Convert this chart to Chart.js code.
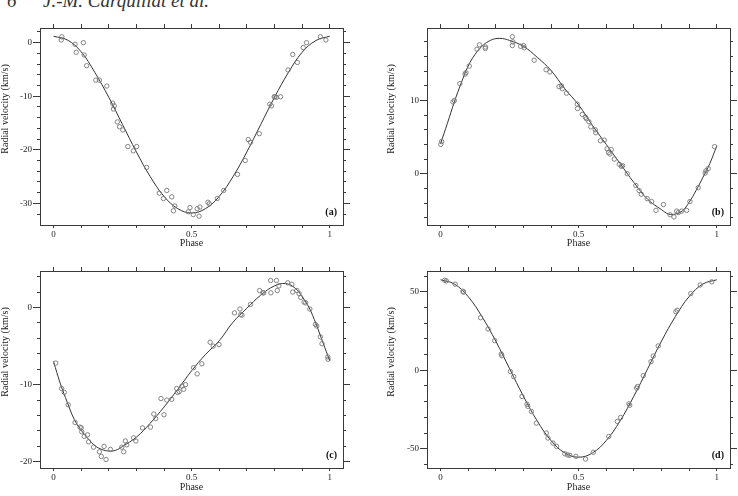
<!DOCTYPE html>
<html lang="en">
<head>
<meta charset="utf-8">
<title>Radial velocity curves</title>
<script src="https://cdn.jsdelivr.net/npm/chart.js@4.4.1/dist/chart.umd.min.js"></script>
<style>
  html, body { margin: 0; padding: 0; background: #fff; }
  body { width: 738px; height: 496px; position: relative; overflow: hidden; }
  canvas { position: absolute; }
  .head { position: absolute; top: -9px; font: italic 19px "Liberation Serif", serif; line-height: 19px; color: #333; white-space: nowrap; }
</style>
</head>
<body>
<span class="head" style="left:7px">6</span>
<span class="head" style="left:43px">J.-M. Carquillat et al.</span>
<canvas id="panelA" width="369" height="278" style="left:0;top:-30px"></canvas>
<canvas id="panelB" width="352" height="278" style="left:386px;top:-30px"></canvas>
<canvas id="panelC" width="369" height="280" style="left:0;top:212px"></canvas>
<canvas id="panelD" width="352" height="280" style="left:386px;top:212px"></canvas>
<script>
const xTicks = [0, 0.1, 0.2, 0.3, 0.4, 0.5, 0.6, 0.7, 0.8, 0.9, 1];
const xLabels = [0, 0.5, 1];

// (a)
const phaseA = [0.030,0.028,0.078,0.082,0.108,0.111,0.120,0.153,0.166,0.193,0.214,0.220,0.217,0.231,0.239,0.251,0.269,0.289,0.301,0.337,0.383,0.398,0.410,0.428,0.434,0.439,0.488,0.494,0.506,0.520,0.527,0.530,0.559,0.564,0.593,0.616,0.666,0.694,0.705,0.713,0.745,0.783,0.789,0.799,0.802,0.807,0.822,0.849,0.866,0.883,0.904,0.916,0.966,0.986];
const rvA = [1.1,0.5,-0.3,-1.8,0.0,-2.3,-4.3,-7.0,-7.0,-8.1,-11.3,-11.8,-12.4,-14.8,-15.7,-16.3,-19.4,-20.2,-19.4,-23.3,-28.1,-29.1,-27.6,-28.8,-31.4,-30.5,-31.6,-30.8,-32.1,-31.0,-32.4,-30.7,-29.8,-30.1,-29.1,-27.6,-24.6,-22.0,-18.1,-18.6,-17.0,-11.5,-11.8,-10.1,-10.1,-10.2,-10.1,-5.1,-2.2,-3.7,-0.9,0.0,1.1,0.5];
const fitPhaseA = [0,0.05,0.1,0.15,0.2,0.25,0.3,0.35,0.4,0.45,0.5,0.55,0.6,0.65,0.7,0.75,0.8,0.85,0.9,0.95,1];
const fitA = [1.2,0.5,-1.7,-5.6,-10.2,-15.3,-20.4,-25.0,-28.7,-31.0,-31.8,-31.0,-28.7,-25.0,-20.4,-15.3,-10.2,-5.6,-1.8,0.4,1.2];
const majorA = [0, -10, -20, -30];
const minorA = [-32,-30,-28,-26,-24,-22,-20,-18,-16,-14,-12,-10,-8,-6,-4,-2,0,2];

// (b)
const phaseB = [0.004,0.001,0.045,0.050,0.070,0.089,0.092,0.104,0.132,0.141,0.162,0.163,0.260,0.260,0.262,0.290,0.301,0.303,0.339,0.382,0.396,0.429,0.438,0.441,0.456,0.495,0.496,0.513,0.525,0.528,0.537,0.544,0.560,0.562,0.579,0.593,0.603,0.608,0.613,0.618,0.629,0.647,0.655,0.659,0.676,0.707,0.719,0.727,0.748,0.764,0.780,0.807,0.831,0.845,0.855,0.861,0.873,0.891,0.903,0.933,0.958,0.961,0.969,0.992];
const rvB = [4.4,4.0,9.8,10.0,12.3,13.6,13.8,14.7,17.0,17.6,17.1,17.3,18.7,17.5,18.0,17.4,17.5,17.2,15.5,14.2,13.9,11.9,12.0,11.6,11.0,9.5,8.9,8.1,7.7,7.5,7.1,6.4,6.0,5.6,4.5,4.6,3.4,2.9,2.7,3.3,2.0,1.3,1.0,1.1,0.0,-1.6,-2.3,-2.8,-3.4,-3.8,-5.0,-4.2,-5.6,-5.9,-5.1,-5.3,-5.1,-5.0,-3.8,-1.9,0.1,0.4,0.7,3.7];
const fitPhaseB = [0,0.025,0.05,0.075,0.1,0.125,0.15,0.175,0.2,0.225,0.25,0.3,0.35,0.4,0.45,0.5,0.55,0.6,0.65,0.7,0.75,0.8,0.825,0.85,0.875,0.9,0.925,0.95,0.975,1];
const fitB = [4.1,6.9,9.8,12.4,14.7,16.3,17.4,18.1,18.45,18.45,18.2,17.4,15.9,14.1,11.6,9.4,6.6,4.0,1.4,-1.2,-3.5,-4.9,-5.5,-5.5,-5.1,-3.9,-2.3,-0.5,1.4,3.8];
const majorB = [0, 10];
const minorB = [-6,-4,-2,0,2,4,6,8,10,12,14,16,18];

// (c)
const phaseC = [0.008,0.029,0.039,0.053,0.078,0.096,0.100,0.102,0.111,0.123,0.127,0.145,0.166,0.173,0.183,0.190,0.206,0.247,0.254,0.260,0.265,0.290,0.298,0.322,0.351,0.363,0.370,0.389,0.400,0.410,0.428,0.446,0.449,0.455,0.465,0.471,0.478,0.507,0.520,0.537,0.567,0.578,0.599,0.655,0.675,0.678,0.682,0.713,0.746,0.758,0.761,0.786,0.787,0.807,0.810,0.816,0.848,0.863,0.866,0.881,0.889,0.895,0.907,0.913,0.928,0.948,0.953,0.966,0.972,0.993,0.994];
const rvC = [-7.2,-10.5,-11.0,-12.6,-14.9,-15.5,-15.6,-16.1,-16.7,-16.5,-17.4,-18.1,-18.7,-19.3,-18.0,-19.7,-18.4,-18.1,-18.7,-17.3,-17.8,-16.9,-17.3,-15.6,-15.5,-13.8,-14.4,-11.8,-13.9,-12.0,-11.9,-10.5,-11.0,-10.9,-10.2,-10.6,-10.0,-7.8,-8.6,-7.3,-4.5,-5.0,-4.8,-0.7,-0.2,-0.9,-1.0,0.4,2.2,1.9,1.9,3.5,1.9,3.5,2.2,2.8,3.2,3.0,2.0,2.2,1.8,1.3,0.7,0.6,-0.2,-2.2,-2.4,-3.8,-4.7,-6.4,-6.7];
const fitPhaseC = [0,0.025,0.05,0.075,0.1,0.125,0.15,0.175,0.2,0.225,0.25,0.3,0.35,0.4,0.45,0.5,0.55,0.6,0.65,0.7,0.75,0.8,0.84,0.875,0.9,0.925,0.95,0.975,1];
const fitC = [-7.0,-9.9,-12.3,-14.5,-15.9,-17.0,-17.9,-18.4,-18.6,-18.5,-18.0,-16.8,-15.0,-12.9,-10.6,-8.2,-6.1,-4.3,-1.9,-0.1,1.6,2.8,3.1,2.5,1.4,0.0,-2.1,-4.5,-6.9];
const majorC = [0, -10, -20];
const minorC = [-20,-18,-16,-14,-12,-10,-8,-6,-4,-2,0,2,4];

// (d)
const phaseD = [0.015,0.021,0.053,0.081,0.083,0.145,0.172,0.196,0.220,0.222,0.253,0.265,0.295,0.313,0.316,0.329,0.347,0.383,0.389,0.407,0.420,0.450,0.460,0.468,0.490,0.525,0.553,0.609,0.640,0.652,0.682,0.685,0.710,0.713,0.734,0.762,0.770,0.788,0.852,0.857,0.906,0.940,0.982];
const rvD = [57.4,57.0,54.9,50.4,49.8,33.5,26.3,18.9,10.4,9.3,-0.8,-4.0,-16.7,-21.6,-23.0,-26.3,-33.7,-40.0,-43.2,-46.4,-48.5,-53.2,-54.0,-54.2,-54.9,-56.6,-52.3,-42.2,-32.6,-30.1,-21.4,-22.3,-11.4,-10.4,-3.4,5.5,9.1,15.5,37.3,38.3,48.9,54.4,56.4];
const fitPhaseD = [0,0.05,0.1,0.15,0.2,0.25,0.3,0.35,0.4,0.45,0.5,0.55,0.6,0.65,0.7,0.75,0.8,0.85,0.9,0.95,1];
const fitD = [57.7,55.0,47.0,34.2,18.6,1.0,-16.5,-32.3,-44.8,-52.7,-55.4,-52.7,-44.8,-32.3,-16.5,1.0,18.6,34.2,47.0,55.0,57.7];
const majorD = [50, 0, -50];
const minorD = [-60,-50,-40,-30,-20,-10,0,10,20,30,40,50,60];

const ink = "#3a3a3a";
const family = '"Liberation Serif", "Times New Roman", serif';
const tickFont = { family: family, size: 9 };
const titleFont = { family: family, size: 10, lineHeight: 1 };

function fixedSize(size) {
  return function (scale) {
    if (scale.isHorizontal()) scale.height = size;
    else scale.width = size;
  };
}

function setTicks(values) {
  return function (scale) {
    scale.ticks = values.map(v => ({ value: v }));
  };
}

function tickAxis(position, weight, min, max, values, size, tickLength) {
  return {
    type: "linear",
    axis: position === "top" || position === "bottom" ? "x" : "y",
    position: position,
    weight: weight,
    min: min,
    max: max,
    afterBuildTicks: setTicks(values),
    afterFit: fixedSize(size),
    grid: { drawOnChartArea: false, tickLength: tickLength, color: ink, lineWidth: 1 },
    border: { display: weight > 0, color: ink, width: 1 },
    ticks: { display: false }
  };
}

const panelLetter = {
  id: "panelLetter",
  afterDatasetsDraw(chart, args, opts) {
    const { ctx, chartArea } = chart;
    ctx.save();
    ctx.font = "bold 10px " + family;
    ctx.fillStyle = "#111";
    ctx.textAlign = "right";
    ctx.textBaseline = "middle";
    ctx.fillText(opts.text, chartArea.right - 6, chartArea.bottom - 13);
    ctx.restore();
  }
};

function crearPanel(id, p) {
  const xMin = -0.049, xMax = 1.048;

  const xAxis = tickAxis("bottom", 1, xMin, xMax, xTicks, p.bottom, 3);
  xAxis.ticks = {
    display: true, padding: 1, font: tickFont, color: "#222",
    maxRotation: 0, autoSkip: false,
    callback: v => xLabels.includes(v) ? String(v) : ""
  };
  xAxis.title = { display: true, text: "Phase", font: titleFont, color: "#222", padding: 0 };

  const yAxis = tickAxis("left", 1, p.yMin, p.yMax, p.major, p.left, 7);
  yAxis.ticks = { display: true, padding: 1, font: tickFont, color: "#222", callback: v => String(v) };

  return new Chart(document.getElementById(id), {
    type: "scatter",
    data: {
      datasets: [
        {
          data: p.phase.map((x, i) => ({ x: x, y: p.rv[i] })),
          pointStyle: "circle",
          pointRadius: 2.2,
          borderColor: "#777",
          borderWidth: 0.9,
          backgroundColor: "rgba(255,255,255,0)",
          showLine: false
        },
        {
          type: "line",
          data: p.fitPhase.map((x, i) => ({ x: x, y: p.fit[i] })),
          borderColor: "#333",
          borderWidth: 1,
          pointRadius: 0,
          fill: false,
          tension: 0.4
        }
      ]
    },
    options: {
      responsive: false,
      animation: false,
      devicePixelRatio: 1,
      layout: { padding: 0 },
      scales: {
        x: xAxis,
        xTop: tickAxis("top", 1, xMin, xMax, xTicks, p.top, 4),
        y: yAxis,
        yMinor: tickAxis("left", 0, p.yMin, p.yMax, p.minor, 0, 3),
        yRight: tickAxis("right", 1, p.yMin, p.yMax, p.major, p.right, 7),
        yRightMinor: tickAxis("right", 0, p.yMin, p.yMax, p.minor, 0, 3)
      },
      plugins: {
        legend: { display: false },
        tooltip: { enabled: false },
        title: {
          display: true, position: "left", text: "Radial velocity (km/s)",
          font: { family: family, size: 10, weight: "normal", lineHeight: 1 },
          color: "#222", padding: 0
        },
        panelLetter: { text: p.letter }
      }
    },
    plugins: [panelLetter]
  });
}

crearPanel("panelA", { phase: phaseA, rv: rvA, fitPhase: fitPhaseA, fit: fitA, yMin: -34.05, yMax: 2.74, major: majorA, minor: minorA, letter: "(a)", left: 30, right: 26, top: 58, bottom: 23 });
crearPanel("panelB", { phase: phaseB, rv: rvB, fitPhase: fitPhaseB, fit: fitB, yMin: -7.0, yMax: 19.9, major: majorB, minor: minorB, letter: "(b)", left: 31, right: 8, top: 58, bottom: 23 });
crearPanel("panelC", { phase: phaseC, rv: rvC, fitPhase: fitPhaseC, fit: fitC, yMin: -20.8, yMax: 4.73, major: majorC, minor: minorC, letter: "(c)", left: 30, right: 26, top: 59, bottom: 24 });
crearPanel("panelD", { phase: phaseD, rv: rvD, fitPhase: fitPhaseD, fit: fitD, yMin: -62.3, yMax: 63.3, major: majorD, minor: minorD, letter: "(d)", left: 31, right: 8, top: 59, bottom: 24 });
</script>
</body>
</html>
